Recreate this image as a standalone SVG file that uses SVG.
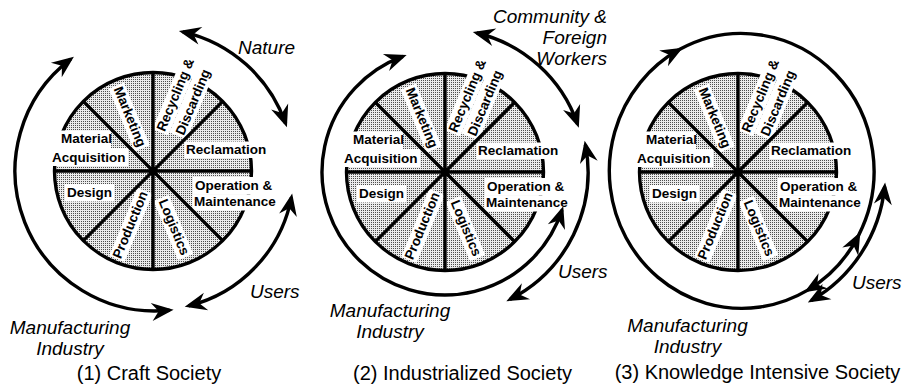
<svg xmlns="http://www.w3.org/2000/svg" width="907" height="384" viewBox="0 0 907 384">
<defs>
  <!-- fine halftone used for the wheel sectors -->
  <pattern id="stipple" width="2" height="2" patternUnits="userSpaceOnUse">
    <rect width="2" height="2" fill="#ebebeb"/>
    <rect width="1" height="1" fill="#4d4d4d"/>
  </pattern>
  <!-- barbed arrowhead; tip sits 4px beyond the path end -->
  <marker id="head" viewBox="-26 -11 28 22" refX="-4" refY="0" markerWidth="28" markerHeight="22" markerUnits="userSpaceOnUse" orient="auto-start-reverse">
    <path d="M0,0 L-22,-9 L-15,0 L-22,9 Z" fill="#000"/>
  </marker>
  <style>
    .disk{fill:url(#stipple);stroke:#000;stroke-width:3.4}
    .tag{fill:#fff}
    .spoke{fill:none;stroke:#000;stroke-width:3.4}
    .seg{font-family:"Liberation Sans",Arial,Helvetica,sans-serif;font-weight:bold;font-size:13.5px;fill:#000}
    .mid{text-anchor:middle}
    .end{text-anchor:end}
    .actor{font-family:"Liberation Sans",Arial,Helvetica,sans-serif;font-style:italic;font-size:19px;fill:#000}
    .cap{font-family:"Liberation Sans",Arial,Helvetica,sans-serif;font-size:20px;fill:#000;text-anchor:middle}
    .ring{fill:none;stroke:#000;stroke-width:3.4}
    .flow{fill:none;stroke:#000;stroke-width:3.4;marker-start:url(#head);marker-end:url(#head)}
    .flow1{fill:none;stroke:#000;stroke-width:3.4;marker-end:url(#head)}
  </style>
</defs>

<rect width="907" height="384" fill="#fff"/>

<!-- (1) craft society wheel -->
<g id="wheel-craft" transform="translate(153,171)">
  <circle class="disk" r="98.5"/>
  <g class="tags">
    <rect class="tag" x="-98" y="-40.5" width="56" height="17.5"/>
    <rect class="tag" x="-103" y="-23" width="78" height="18"/>
    <rect class="tag" x="-88" y="13" width="49" height="17.5"/>
    <rect class="tag" x="31.5" y="-29.5" width="85" height="16.5"/>
    <rect class="tag" x="40" y="6" width="81.5" height="17.5"/>
    <rect class="tag" x="39.5" y="23.5" width="86" height="16"/>
    <rect class="tag" x="-93" y="-7" width="68" height="16.5" transform="rotate(67.5)"/>
    <rect class="tag" x="28" y="-5.5" width="64" height="16.5" transform="rotate(67.5)"/>
    <rect class="tag" x="-95" y="-8" width="73.5" height="16.5" transform="rotate(-67.5)"/>
    <rect class="tag" x="38.5" y="-16.5" width="81" height="17" transform="rotate(-67.5)"/>
    <rect class="tag" x="42" y="0.5" width="74" height="18.5" transform="rotate(-67.5)"/>
  </g>
  <path class="spoke" d="M-98.5,0H98.5M0,-98.5V98.5M-69.65,-69.65L69.65,69.65M-69.65,69.65L69.65,-69.65"/>
  <text class="seg" x="-92" y="-28">Material</text>
  <text class="seg" x="-101" y="-9">Acquisition</text>
  <text class="seg" x="-86" y="26">Design</text>
  <text class="seg" x="33" y="-17">Reclamation</text>
  <text class="seg" x="42" y="19">Operation &amp;</text>
  <text class="seg" x="41" y="35">Maintenance</text>
  <text class="seg mid" x="-59" y="5" transform="rotate(67.5)">Marketing</text>
  <text class="seg mid" x="60" y="6.5" transform="rotate(67.5)">Logistics</text>
  <text class="seg mid" x="-58.5" y="4" transform="rotate(-67.5)">Production</text>
  <text class="seg mid" x="79" y="-4" transform="rotate(-67.5)">Recycling &amp;</text>
  <text class="seg mid" x="79" y="15" transform="rotate(-67.5)">Discarding</text>
</g>

<!-- (2) industrialized society wheel -->
<g id="wheel-industrial" transform="translate(445,172)">
  <circle class="disk" r="98.5"/>
  <g class="tags">
    <rect class="tag" x="-98" y="-40.5" width="56" height="17.5"/>
    <rect class="tag" x="-103" y="-23" width="78" height="18"/>
    <rect class="tag" x="-88" y="13" width="49" height="17.5"/>
    <rect class="tag" x="31.5" y="-29.5" width="85" height="16.5"/>
    <rect class="tag" x="40" y="6" width="81.5" height="17.5"/>
    <rect class="tag" x="39.5" y="23.5" width="86" height="16"/>
    <rect class="tag" x="-93" y="-7" width="68" height="16.5" transform="rotate(67.5)"/>
    <rect class="tag" x="28" y="-5.5" width="64" height="16.5" transform="rotate(67.5)"/>
    <rect class="tag" x="-95" y="-8" width="73.5" height="16.5" transform="rotate(-67.5)"/>
    <rect class="tag" x="38.5" y="-16.5" width="81" height="17" transform="rotate(-67.5)"/>
    <rect class="tag" x="42" y="0.5" width="74" height="18.5" transform="rotate(-67.5)"/>
  </g>
  <path class="spoke" d="M-98.5,0H98.5M0,-98.5V98.5M-69.65,-69.65L69.65,69.65M-69.65,69.65L69.65,-69.65"/>
  <text class="seg" x="-92" y="-28">Material</text>
  <text class="seg" x="-101" y="-9">Acquisition</text>
  <text class="seg" x="-86" y="26">Design</text>
  <text class="seg" x="33" y="-17">Reclamation</text>
  <text class="seg" x="42" y="19">Operation &amp;</text>
  <text class="seg" x="41" y="35">Maintenance</text>
  <text class="seg mid" x="-59" y="5" transform="rotate(67.5)">Marketing</text>
  <text class="seg mid" x="60" y="6.5" transform="rotate(67.5)">Logistics</text>
  <text class="seg mid" x="-58.5" y="4" transform="rotate(-67.5)">Production</text>
  <text class="seg mid" x="79" y="-4" transform="rotate(-67.5)">Recycling &amp;</text>
  <text class="seg mid" x="79" y="15" transform="rotate(-67.5)">Discarding</text>
</g>

<!-- (3) knowledge intensive society wheel -->
<g id="wheel-knowledge" transform="translate(738,172)">
  <circle class="disk" r="98.5"/>
  <g class="tags">
    <rect class="tag" x="-98" y="-40.5" width="56" height="17.5"/>
    <rect class="tag" x="-103" y="-23" width="78" height="18"/>
    <rect class="tag" x="-88" y="13" width="49" height="17.5"/>
    <rect class="tag" x="31.5" y="-29.5" width="85" height="16.5"/>
    <rect class="tag" x="40" y="6" width="81.5" height="17.5"/>
    <rect class="tag" x="39.5" y="23.5" width="86" height="16"/>
    <rect class="tag" x="-93" y="-7" width="68" height="16.5" transform="rotate(67.5)"/>
    <rect class="tag" x="28" y="-5.5" width="64" height="16.5" transform="rotate(67.5)"/>
    <rect class="tag" x="-95" y="-8" width="73.5" height="16.5" transform="rotate(-67.5)"/>
    <rect class="tag" x="38.5" y="-16.5" width="81" height="17" transform="rotate(-67.5)"/>
    <rect class="tag" x="42" y="0.5" width="74" height="18.5" transform="rotate(-67.5)"/>
  </g>
  <path class="spoke" d="M-98.5,0H98.5M0,-98.5V98.5M-69.65,-69.65L69.65,69.65M-69.65,69.65L69.65,-69.65"/>
  <text class="seg" x="-92" y="-28">Material</text>
  <text class="seg" x="-101" y="-9">Acquisition</text>
  <text class="seg" x="-86" y="26">Design</text>
  <text class="seg" x="33" y="-17">Reclamation</text>
  <text class="seg" x="42" y="19">Operation &amp;</text>
  <text class="seg" x="41" y="35">Maintenance</text>
  <text class="seg mid" x="-59" y="5" transform="rotate(67.5)">Marketing</text>
  <text class="seg mid" x="60" y="6.5" transform="rotate(67.5)">Logistics</text>
  <text class="seg mid" x="-58.5" y="4" transform="rotate(-67.5)">Production</text>
  <text class="seg mid" x="79" y="-4" transform="rotate(-67.5)">Recycling &amp;</text>
  <text class="seg mid" x="79" y="15" transform="rotate(-67.5)">Discarding</text>
</g>

<!-- exchange arrows around the wheels -->
<g id="connectors">
  <path id="craft-manufacturing" class="flow" d="M70.7,59.2A140,140 0 0 0 169.6,310.2"/>
  <path id="craft-users" class="flow" d="M188.6,305.9A139,139 0 0 0 291.4,197.5"/>
  <path id="craft-nature" class="flow" d="M182.8,31.8A142,142 0 0 1 285.6,123.5"/>

  <path id="industrial-manufacturing" class="flow" d="M402.9,56.4A123,123 0 1 0 562,210"/>
  <path id="industrial-community" class="flow" d="M476.7,33A141,141 0 0 1 577.5,124"/>
  <path id="industrial-users" class="flow" d="M509.9,299.4A143,143 0 0 0 585.4,144.7"/>

  <path id="knowledge-manufacturing-a" class="flow1" d="M807.75,290.1A132.5,137.5 0 1 1 679.3,49.6"/>
  <path id="knowledge-manufacturing-b" class="ring" d="M679.3,49.6A132.5,137.5 0 0 1 858.5,235.6"/>
  <path id="knowledge-users-inner" class="flow" d="M807.75,290.1A132.5,137.5 0 0 0 858.5,235.6"/>
  <path id="knowledge-users-outer" class="flow" d="M811.3,300.4A144,148 0 0 0 884.7,186.5"/>
</g>

<!-- actor labels -->
<g id="label-nature"><text class="actor" x="238" y="54">Nature</text></g>
<g id="label-craft-users"><text class="actor" x="250" y="298">Users</text></g>
<g id="label-craft-manufacturing">
  <text class="actor mid" x="70" y="334">Manufacturing</text>
  <text class="actor mid" x="70" y="355">Industry</text>
</g>
<g id="label-community">
  <text class="actor end" x="607" y="23">Community &amp;</text>
  <text class="actor end" x="607" y="44">Foreign</text>
  <text class="actor end" x="607" y="65">Workers</text>
</g>
<g id="label-industrial-users"><text class="actor" x="558" y="278">Users</text></g>
<g id="label-industrial-manufacturing">
  <text class="actor mid" x="390" y="317">Manufacturing</text>
  <text class="actor mid" x="390" y="338">Industry</text>
</g>
<g id="label-knowledge-users"><text class="actor" x="852" y="289">Users</text></g>
<g id="label-knowledge-manufacturing">
  <text class="actor mid" x="687.5" y="332">Manufacturing</text>
  <text class="actor mid" x="687.5" y="353">Industry</text>
</g>

<!-- captions -->
<g id="caption-1"><text class="cap" x="149" y="380">(1) Craft Society</text></g>
<g id="caption-2"><text class="cap" x="462.5" y="380">(2) Industrialized Society</text></g>
<g id="caption-3"><text class="cap" x="757.5" y="379">(3) Knowledge Intensive Society</text></g>
</svg>
